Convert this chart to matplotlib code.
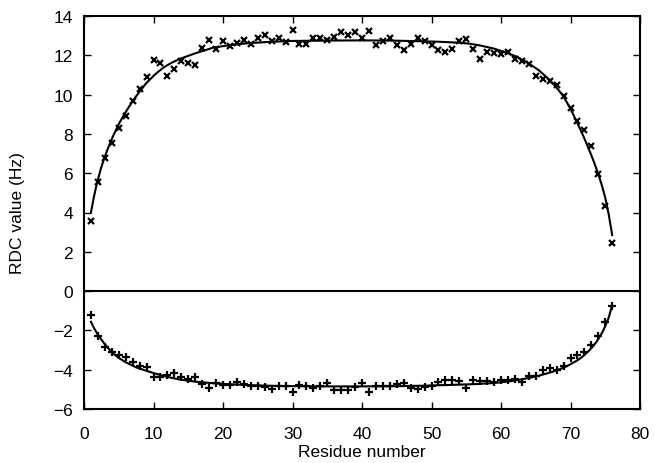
import numpy as np
from matplotlib import pyplot as plt

plt.rcParams['font.family'] = ['Liberation Sans', 'DejaVu Sans']

# measured RDC values (x markers, upper series)
residues_top = list(range(1, 77))
rdc_top = [3.57, 5.56, 6.75, 7.56, 8.32, 8.91, 9.68, 10.27, 10.91, 11.78,
           11.62, 10.96, 11.32, 11.71, 11.63, 11.52, 12.37, 12.76, 12.34, 12.71,
           12.49, 12.64, 12.78, 12.59, 12.88, 13.05, 12.73, 12.86, 12.66, 13.28,
           12.59, 12.57, 12.86, 12.86, 12.76, 12.91, 13.17, 13.05, 13.18, 12.90,
           13.25, 12.52, 12.73, 12.86, 12.52, 12.29, 12.56, 12.90, 12.71, 12.54,
           12.25, 12.17, 12.30, 12.73, 12.83, 12.30, 11.83, 12.18, 12.10, 12.08,
           12.17, 11.83, 11.69, 11.54, 10.96, 10.81, 10.69, 10.47, 9.93, 9.34,
           8.66, 8.18, 7.39, 5.98, 4.35, 2.44]

# measured RDC values (+ markers, lower series)
residues_bot = list(range(1, 77))
rdc_bot = [-1.22, -2.27, -2.83, -3.12, -3.25, -3.34, -3.59, -3.83, -3.88, -4.36,
           -4.36, -4.27, -4.19, -4.37, -4.47, -4.39, -4.73, -4.91, -4.68, -4.78,
           -4.78, -4.61, -4.71, -4.81, -4.85, -4.88, -4.98, -4.85, -4.85, -5.12,
           -4.76, -4.81, -4.95, -4.81, -4.68, -5.02, -5.02, -5.05, -4.90, -4.66,
           -5.13, -4.81, -4.81, -4.85, -4.71, -4.68, -4.91, -4.98, -4.88, -4.85,
           -4.64, -4.51, -4.54, -4.56, -4.95, -4.51, -4.56, -4.56, -4.64, -4.54,
           -4.51, -4.47, -4.64, -4.34, -4.31, -4.03, -3.93, -4.03, -3.80, -3.42,
           -3.24, -3.08, -2.75, -2.27, -1.56, -0.75]

# fitted curves
fit_top_x = [1, 1.4, 1.8, 2.4, 3, 3.6, 4.2, 5, 5.8, 6.6, 7.3, 8, 9, 10.2, 11.4,
             12.6, 13.8, 16, 18.6, 21, 23.4, 26.5, 30, 35, 40, 44, 48, 51, 54,
             55.5, 57, 59, 60.8, 62.3, 63.8, 65.4, 66.9, 67.9, 68.9, 69.9, 70.9,
             71.9, 72.9, 73.5, 74, 74.5, 75, 75.5, 76]
fit_top_y = [4.0, 4.75, 5.4, 6.2, 6.85, 7.4, 7.9, 8.5, 9.0, 9.45, 9.82, 10.15,
             10.6, 11.02, 11.37, 11.62, 11.82, 12.1, 12.39, 12.52, 12.61, 12.68,
             12.73, 12.75, 12.76, 12.75, 12.72, 12.69, 12.64, 12.59, 12.5, 12.34,
             12.13, 11.92, 11.63, 11.25, 10.78, 10.4, 9.95, 9.35, 8.62, 7.85,
             7.0, 6.45, 5.95, 5.4, 4.75, 3.9, 2.85]

fit_bot_x = [1, 1.5, 2, 2.5, 3, 3.6, 4.2, 5, 6, 7.5, 9, 10, 11, 12.3, 13.8, 16,
             18.6, 21, 23.4, 28.2, 34, 39.7, 45, 49.3, 54, 56.5, 58.9, 60.3, 61.5,
             62.7, 63.7, 65, 66, 67.3, 68.5, 69.7, 70.9, 71.5, 72, 72.7, 73.3,
             73.8, 74.2, 74.6, 75, 75.5, 75.9]
fit_bot_y = [-1.56, -1.92, -2.22, -2.47, -2.7, -2.95, -3.18, -3.4, -3.62, -3.88,
             -4.06, -4.17, -4.27, -4.39, -4.5, -4.61, -4.69, -4.74, -4.78, -4.83,
             -4.85, -4.85, -4.84, -4.81, -4.76, -4.73, -4.68, -4.63, -4.58, -4.51,
             -4.44, -4.35, -4.25, -4.12, -3.97, -3.78, -3.54, -3.4, -3.25, -3.02,
             -2.78, -2.55, -2.32, -2.08, -1.78, -1.35, -0.83]

fig = plt.figure(figsize=(6.54, 4.64), dpi=100)
ax = fig.add_axes([84 / 654, 54 / 464, 556 / 654, 393 / 464])

ax.axhline(0, color='black', lw=1.5)
ax.plot(fit_top_x, fit_top_y, color='black', lw=1.5)
ax.plot(fit_bot_x, fit_bot_y, color='black', lw=1.5)
ax.plot(residues_top, rdc_top, ls='none', marker='x', ms=5, mew=1.6, color='black')
ax.plot(residues_bot, rdc_bot, ls='none', marker='+', ms=6, mew=1.6, color='black')

ax.set_xlim(0, 80)
ax.set_ylim(-6, 14)
ax.set_xticks(np.arange(0, 81, 10))
ax.set_yticks(np.arange(-6, 15, 2))
ax.tick_params(direction='in', top=True, right=True, length=5, width=1,
               labelsize=12.5)
ax.tick_params(axis='x', pad=12)
ax.tick_params(axis='y', pad=8)
for s in ax.spines.values():
    s.set_linewidth(1.5)

ax.set_xlabel('Residue number', fontsize=12.5)
ax.set_ylabel('RDC value (Hz)', fontsize=12.5)
ax.xaxis.set_label_coords(0.5, -0.088)
ax.yaxis.set_label_coords(-0.106, 0.5)

plt.savefig('out.png', dpi=100)
